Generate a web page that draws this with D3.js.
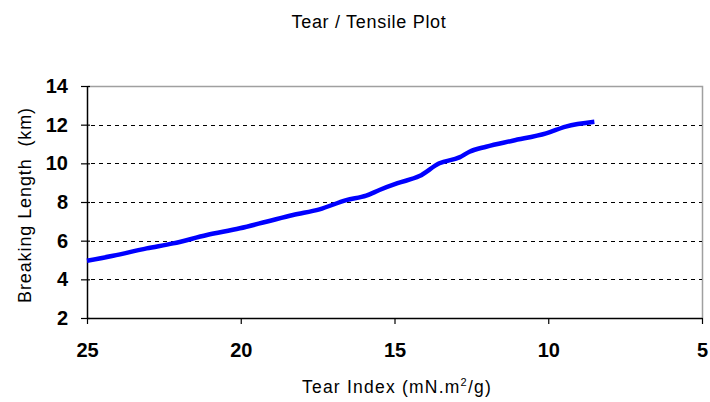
<!DOCTYPE html>
<html>
<head>
<meta charset="utf-8">
<script src="https://cdn.jsdelivr.net/npm/d3@7"></script>
<style>
  body { margin: 0; background: #fff; }
  svg { display: block; font-family: "Liberation Sans", Arial, sans-serif; }
</style>
</head>
<body>
<script>
// chart data
var tearIndex = [25.0, 24.15, 23.06, 22.2, 21.1, 20.03, 19.17, 18.3, 17.44, 16.57, 15.92, 15.49, 14.9, 14.19, 13.54, 12.89, 12.56, 12.02, 11.16, 10.07, 9.43, 8.5];
var breakingLength = [4.96, 5.22, 5.6, 5.86, 6.29, 6.64, 6.98, 7.33, 7.62, 8.1, 8.33, 8.62, 8.97, 9.34, 10.0, 10.31, 10.6, 10.86, 11.17, 11.55, 11.9, 12.15];
var xTicks = [25, 20, 15, 10, 5];
var yTicks = [2, 4, 6, 8, 10, 12, 14];
var gridTicks = [4, 6, 8, 10, 12];

var W = 710, H = 402;
var margin = {top: 86, right: 8, bottom: 84, left: 87}
  , width = W - margin.left - margin.right
  , height = H - margin.top - margin.bottom;

var svg = d3.select("body").append("svg")
    .attr("width", W)
    .attr("height", H);

var x = d3.scaleLinear().domain([25, 5]).range([0, width]);
var y = d3.scaleLinear().domain([2, 14]).range([height, 0]);

var g = svg.append("g")
    .attr("transform", "translate(" + margin.left + "," + margin.top + ")");

// plot border (top + right in gray)
g.append("path")
    .attr("d", "M0.5,0.5H" + (width + 0.5) + "V" + height)
    .attr("fill", "none")
    .attr("stroke", "#a0a0a0")
    .attr("stroke-width", 1.5);

// dashed gridlines
g.selectAll(".grid")
    .data(gridTicks)
    .enter()
    .append("line")
    .attr("class", "grid")
    .attr("x1", 4)
    .attr("x2", width)
    .attr("y1", function(d) { return Math.round(y(d)) + 0.5; })
    .attr("y2", function(d) { return Math.round(y(d)) + 0.5; })
    .attr("stroke", "#000")
    .attr("stroke-width", 1)
    .attr("stroke-dasharray", "4,4");

// axes
var xAxis = g.append("g")
    .attr("transform", "translate(0," + height + ")")
    .call(d3.axisBottom(x).tickValues(xTicks).tickSize(6).tickSizeOuter(0).tickPadding(19));
var yAxis = g.append("g")
    .call(d3.axisLeft(y).tickValues(yTicks).tickSize(6).tickSizeOuter(0).tickPadding(13));

// y ticks cross the axis a little
yAxis.selectAll(".tick line").attr("x1", 3);

[xAxis, yAxis].forEach(function(a) {
  a.select(".domain").attr("stroke", "#000").attr("stroke-width", 1.5);
  a.selectAll(".tick line").attr("stroke", "#000").attr("stroke-width", 1.2);
  a.selectAll("text")
    .attr("font-family", "'Liberation Sans Narrow', 'Arial Narrow', 'Liberation Sans', sans-serif")
    .attr("font-size", 20)
    .attr("font-weight", "bold")
    .attr("fill", "#000");
});

// the curve
var line = d3.line()
    .x(function(d, i) { return x(tearIndex[i]); })
    .y(function(d) { return y(d); })
    .curve(d3.curveMonotoneX);

g.append("path")
    .datum(breakingLength)
    .attr("d", line)
    .attr("fill", "none")
    .attr("stroke", "#0000ff")
    .attr("stroke-width", 4.5)
    .attr("stroke-linejoin", "round");

// spread text to a given width
function fitWidth(sel, target) {
  var node = sel.node();
  var n = node.textContent.length;
  var w = node.getComputedTextLength();
  sel.attr("letter-spacing", ((target - w) / n) + "px");
}

// titles
var title = svg.append("text")
    .attr("x", 369)
    .attr("y", 28)
    .attr("text-anchor", "middle")
    .attr("font-size", 18)
    .attr("fill", "#000")
    .text("Tear / Tensile Plot");
fitWidth(title, 155);

var xt = svg.append("text")
    .attr("x", 397)
    .attr("y", 393)
    .attr("text-anchor", "middle")
    .attr("font-size", 17.5)
    .attr("fill", "#000");
xt.append("tspan").text("Tear Index (mN.m");
xt.append("tspan").attr("dy", -7).attr("font-size", 11).text("2");
xt.append("tspan").attr("dy", 7).text("/g)");
fitWidth(xt, 190);

var yt = svg.append("text")
    .attr("transform", "translate(31,205) rotate(-90)")
    .attr("text-anchor", "middle")
    .attr("font-size", 18)
    .attr("fill", "#000")
    .style("white-space", "pre")
    .text("Breaking Length  (km)");
fitWidth(yt, 196);
</script>
</body>
</html>
